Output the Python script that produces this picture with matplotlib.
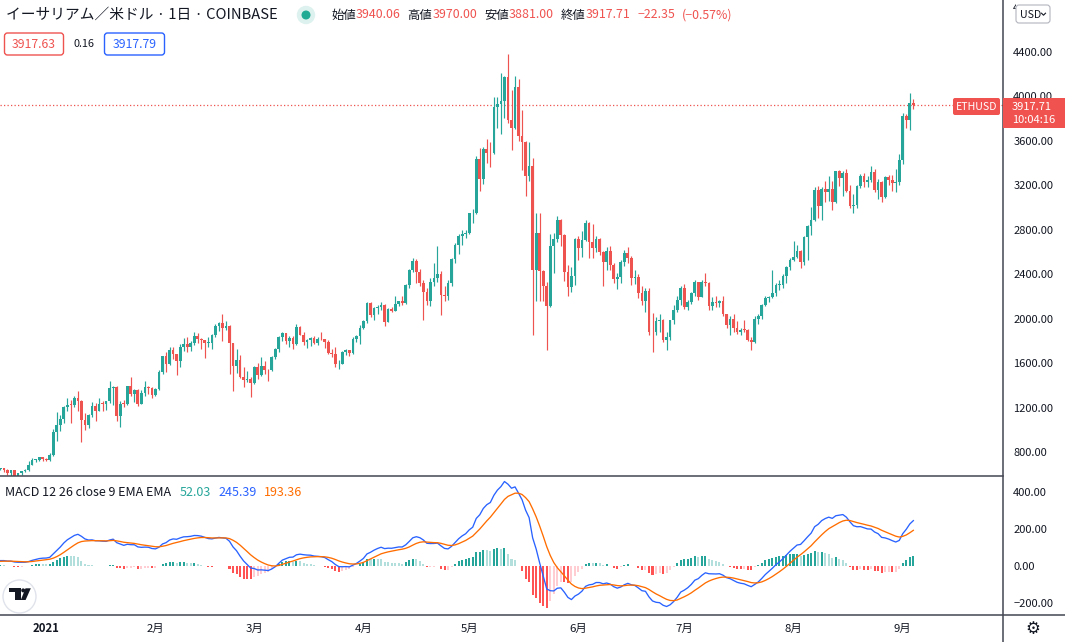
import numpy as np
import pandas as pd
import matplotlib
matplotlib.use('Agg')
import matplotlib.pyplot as plt
from matplotlib.patches import FancyBboxPatch, Circle, Polygon, Rectangle
from matplotlib.lines import Line2D
import matplotlib.transforms as mtransforms

plt.rcParams['font.family'] = ['Noto Sans CJK JP', 'DejaVu Sans']

# ---------------- data ----------------
# warm-up closes (2020-11-01 .. 2020-12-18), used only for the MACD history
warmup_close = [396, 383, 388, 402, 415, 455, 435, 453, 444, 449, 462, 463, 475, 460, 448,
                460, 480, 479, 471, 510, 549, 560, 608, 603, 570, 518, 517, 538, 575, 614,
                587, 598, 616, 569, 596, 601, 591, 554, 573, 560, 545, 568, 590, 586, 589,
                636, 642, 643]

# visible candles start 2020-12-19
dec_close = [654, 638, 609, 634, 584, 612, 626, 635, 683, 731, 731, 751, 737]
dec_high = [660, 659, 648, 637, 636, 615, 630, 648, 715, 746, 741, 754, 752]
dec_low = [640, 620, 595, 585, 567, 575, 597, 621, 629, 683, 707, 717, 716]

jan_close = [730, 775, 979, 1041, 1100, 1208, 1225, 1224, 1281, 1262, 1090, 1044, 1130, 1218, 1171,
             1233, 1230, 1257, 1377, 1382, 1121, 1236, 1230, 1391, 1324, 1357, 1232, 1332, 1382, 1376, 1314]
jan_high = [749, 787, 1011, 1157, 1132, 1215, 1286, 1266, 1300, 1352, 1263, 1150, 1142, 1247, 1240,
            1288, 1262, 1260, 1442, 1395, 1390, 1256, 1270, 1395, 1475, 1364, 1365, 1355, 1434, 1395, 1385]
jan_low = [716, 715, 765, 896, 990, 1064, 1170, 1060, 1202, 1170, 893, 998, 1020, 1115, 1080,
           1165, 1170, 1180, 1240, 1225, 1075, 1028, 1205, 1220, 1300, 1250, 1217, 1240, 1300, 1320, 1282]

feb_close = [1369, 1515, 1660, 1594, 1719, 1677, 1614, 1746, 1768, 1744, 1783, 1843, 1814, 1805,
             1779, 1781, 1848, 1937, 1960, 1919, 1935, 1777, 1572, 1626, 1475, 1446, 1459, 1417]
feb_high = [1376, 1540, 1665, 1700, 1740, 1745, 1685, 1770, 1825, 1832, 1800, 1875, 1870, 1825,
            1810, 1830, 1865, 1950, 1970, 2042, 1975, 1938, 1780, 1725, 1670, 1560, 1530, 1470]
feb_low = [1300, 1355, 1500, 1515, 1580, 1633, 1490, 1565, 1705, 1700, 1710, 1765, 1780, 1725,
           1643, 1740, 1730, 1830, 1890, 1800, 1900, 1500, 1352, 1510, 1465, 1388, 1430, 1295]

mar_close = [1564, 1492, 1575, 1541, 1533, 1655, 1723, 1834, 1868, 1799, 1826, 1772, 1924, 1854, 1791,
             1806, 1823, 1782, 1817, 1812, 1785, 1688, 1678, 1588, 1595, 1702, 1716, 1691, 1819, 1846, 1919]
mar_high = [1570, 1600, 1650, 1620, 1550, 1660, 1735, 1840, 1875, 1870, 1840, 1840, 1947, 1935, 1880,
            1815, 1832, 1845, 1830, 1875, 1815, 1810, 1725, 1740, 1625, 1705, 1730, 1720, 1835, 1855, 1945]
mar_low = [1410, 1460, 1485, 1500, 1440, 1530, 1640, 1700, 1800, 1775, 1740, 1730, 1760, 1850, 1765,
           1735, 1750, 1770, 1760, 1805, 1735, 1680, 1655, 1568, 1545, 1590, 1675, 1665, 1680, 1790, 1770]

apr_close = [1977, 2143, 2028, 2093, 2107, 2118, 1971, 2088, 2072, 2135, 2158, 2139, 2299, 2432, 2515,
             2418, 2317, 2235, 2153, 2330, 2364, 2403, 2213, 2205, 2320, 2534, 2663, 2746, 2756, 2773]
apr_high = [1990, 2150, 2145, 2100, 2120, 2150, 2130, 2095, 2100, 2200, 2160, 2200, 2310, 2445, 2547,
            2535, 2445, 2350, 2275, 2360, 2495, 2650, 2430, 2290, 2345, 2542, 2680, 2758, 2797, 2797]
apr_low = [1910, 1960, 2015, 1990, 2040, 2075, 1935, 1965, 2060, 2070, 2115, 2120, 2135, 2275, 2420,
           2320, 2290, 1988, 2120, 2110, 2290, 2330, 2035, 2160, 2170, 2290, 2500, 2580, 2659, 2720]

may_close = [2945, 2950, 3431, 3253, 3523, 3490, 3484, 3903, 3928, 3952, 4169, 3785, 3715, 4080, 3642,
             3590, 3282, 3372, 2440, 2771, 2430, 2290, 2110, 2654, 2714, 2888, 2750, 2420, 2281, 2384, 2714]
may_high = [2950, 2985, 3460, 3530, 3540, 3610, 3590, 3990, 3990, 4208, 4180, 4382, 4058, 4178, 4149,
            3878, 3600, 3590, 3446, 2950, 2950, 2440, 2330, 2760, 2770, 2920, 2895, 2760, 2480, 2460, 2720]
may_low = [2760, 2860, 2940, 3150, 3210, 3400, 3365, 3480, 3710, 3660, 3800, 3760, 3518, 3700, 3600,
           3338, 3097, 3235, 1853, 2153, 2153, 2153, 1718, 2100, 2410, 2690, 2650, 2336, 2200, 2240, 2300]

jun_close = [2633, 2710, 2856, 2690, 2630, 2711, 2600, 2504, 2610, 2480, 2352, 2372, 2510, 2586, 2547,
             2365, 2374, 2230, 2160, 2245, 1880, 1875, 1975, 1990, 1810, 1830, 1983, 2080, 2168, 2273]
jun_high = [2740, 2790, 2890, 2870, 2850, 2744, 2720, 2610, 2640, 2650, 2500, 2410, 2525, 2620, 2640,
            2560, 2440, 2400, 2290, 2270, 2270, 2050, 2010, 2045, 2000, 1880, 1990, 2120, 2200, 2290]
jun_low = [2530, 2550, 2700, 2546, 2543, 2600, 2570, 2296, 2440, 2440, 2320, 2263, 2320, 2470, 2500,
           2300, 2310, 2180, 2120, 2060, 1850, 1700, 1850, 1880, 1790, 1713, 1810, 1950, 2055, 2120]

jul_close = [2105, 2150, 2227, 2325, 2196, 2325, 2316, 2111, 2148, 2141, 2156, 2040, 1943, 1995, 1915,
             1880, 1898, 1896, 1808, 1785, 1994, 2025, 2123, 2188, 2191, 2230, 2300, 2300, 2380, 2460, 2528]
jul_high = [2310, 2165, 2240, 2345, 2330, 2350, 2410, 2325, 2195, 2200, 2170, 2200, 2045, 2020, 2040,
            1975, 1915, 1990, 1910, 1835, 2020, 2045, 2135, 2200, 2200, 2438, 2320, 2348, 2400, 2470, 2540]
jul_low = [2090, 2080, 2130, 2200, 2165, 2200, 2290, 2080, 2080, 2100, 2100, 2020, 1912, 1853, 1880,
           1860, 1855, 1880, 1800, 1717, 1780, 1955, 2000, 2110, 2150, 2180, 2200, 2260, 2270, 2320, 2440]

aug_close = [2555, 2609, 2504, 2736, 2828, 2890, 3158, 3008, 3163, 3141, 3163, 3046, 3323, 3265, 3310,
             3143, 3008, 3020, 3187, 3284, 3226, 3243, 3320, 3158, 3228, 3090, 3272, 3244, 3220, 3230, 3428]
aug_high = [2693, 2665, 2620, 2745, 2840, 3000, 3180, 3194, 3180, 3233, 3278, 3235, 3330, 3332, 3330,
            3341, 3200, 3122, 3200, 3300, 3310, 3280, 3374, 3345, 3250, 3240, 3280, 3290, 3290, 3345, 3482]
aug_low = [2520, 2540, 2450, 2480, 2522, 2750, 2880, 2900, 2882, 3045, 3060, 2973, 3040, 3190, 3104,
           3140, 2990, 2951, 2990, 3170, 3180, 3180, 3230, 3140, 3075, 3050, 3080, 3200, 3143, 3135, 3200]

sep_close = [3824, 3788, 3940.06, 3917.71]
sep_high = [3845, 3840, 4028, 3970.00]
sep_low = [3390, 3716, 3698, 3881.00]

month_labels = ['2021', '2月', '3月', '4月', '5月', '6月', '7月', '8月', '9月']
month_starts = ['2021-01-01', '2021-02-01', '2021-03-01', '2021-04-01', '2021-05-01',
                '2021-06-01', '2021-07-01', '2021-08-01', '2021-09-01']
price_ticks = [800, 1200, 1600, 2000, 2400, 2800, 3200, 3600, 4000, 4400]
macd_ticks = [-200, 0, 200, 400]

last_price = 3917.71
legend_vals = ['52.03', '245.39', '193.36']

# ---------------- assemble ----------------
close = np.array(dec_close + jan_close + feb_close + mar_close + apr_close + may_close +
                 jun_close + jul_close + aug_close + sep_close, dtype=float)
high = np.array(dec_high + jan_high + feb_high + mar_high + apr_high + may_high +
                jun_high + jul_high + aug_high + sep_high, dtype=float)
low = np.array(dec_low + jan_low + feb_low + mar_low + apr_low + may_low +
               jun_low + jul_low + aug_low + sep_low, dtype=float)
open_ = np.concatenate([[warmup_close[-1]], close[:-1]])

dates = pd.date_range('2020-12-19', periods=len(close), freq='D')
ref = pd.Timestamp('2021-01-01')
d = np.array((dates - ref).days, dtype=float)
high = np.maximum(high, np.maximum(open_, close))
low = np.minimum(low, np.minimum(open_, close))

full = pd.Series(np.concatenate([warmup_close, close]))
ema12 = full.ewm(span=12, adjust=False).mean()
ema26 = full.ewm(span=26, adjust=False).mean()
macd_full = ema12 - ema26
sig_full = macd_full.ewm(span=9, adjust=False).mean()
hist_full = (macd_full - sig_full).values
n0 = len(warmup_close)
macd = macd_full.values[n0:]
sig = sig_full.values[n0:]
hist = hist_full[n0:]
hist_prev = hist_full[n0 - 1:-1]

# ---------------- figure ----------------
W, H = 1065, 642
fig = plt.figure(figsize=(W / 100, H / 100), dpi=100)
fig.patch.set_facecolor('white')

PLOT_R = 1003
ax = fig.add_axes([0, 1 - 476 / H, PLOT_R / W, 476 / H])
axm = fig.add_axes([0, 1 - 615 / H, PLOT_R / W, (615 - 476) / H], sharex=ax)
ov = fig.add_axes([0, 0, 1, 1], facecolor='none')
ov.set_xlim(0, W)
ov.set_ylim(H, 0)
ov.axis('off')

px_per_day = 3.525
x0_day = -46.2 / px_per_day
x1_day = (PLOT_R - 46.2) / px_per_day
ax.set_xlim(x0_day, x1_day)

ax.set_ylim(800 - 24 * 8.99, 800 + 452 * 8.99)
axm.set_ylim(-(615 - 566) * 5.405, 400 + 16 * 5.405)

UP, DOWN = '#26A69A', '#EF5350'
TXT = '#131722'
for a in (ax, axm):
    a.set_facecolor('white')
    for s in a.spines.values():
        s.set_visible(False)
    a.tick_params(axis='x', which='both', length=0, labelbottom=False)
    a.yaxis.tick_right()
    a.tick_params(axis='y', length=0, pad=7.4, labelsize=8, labelcolor=TXT)

# candles
cols = np.where(close >= open_, UP, DOWN)
ax.vlines(d, low, high, colors=cols, lw=0.85, zorder=2)
body_b = np.minimum(open_, close)
body_h = np.maximum(np.abs(close - open_), 7)
ax.bar(d, body_h, bottom=body_b, width=0.78, color=cols, lw=0, zorder=3)

ax.set_yticks(price_ticks)
ax.set_yticklabels([f'{v:.2f}' for v in price_ticks])
ax.axhline(last_price, color=DOWN, lw=0.9, dashes=(1, 1.8), zorder=1)

# MACD
hcols = []
for hv, hp in zip(hist, hist_prev):
    if hv >= 0:
        hcols.append('#26A69A' if hv > hp else '#B2DFDB')
    else:
        hcols.append('#FF5252' if hv < hp else '#FFCDD2')
axm.bar(d, hist, width=0.58, color=hcols, lw=0, zorder=2)
axm.plot(d, macd, color='#2962FF', lw=0.95, zorder=3)
axm.plot(d, sig, color='#FF6D00', lw=0.95, zorder=3)
axm.set_yticks(macd_ticks)
axm.set_yticklabels([f'{v:.2f}'.replace('-', '\u2212') for v in macd_ticks])

# frame lines
LINE = '#434651'
ov.add_line(Line2D([0, PLOT_R], [476, 476], color=LINE, lw=1.1))
ov.add_line(Line2D([0, W], [615, 615], color=LINE, lw=1.1))
ov.add_line(Line2D([PLOT_R, PLOT_R], [0, H], color=LINE, lw=1.1))

# x labels
tr = mtransforms.blended_transform_factory(axm.transData, ov.transData)
for lab, ms in zip(month_labels, month_starts):
    dd = (pd.Timestamp(ms) - ref).days
    ov.text(dd, 629, lab, transform=tr, ha='center', va='center', fontsize=8.2, color=TXT,
            fontweight='bold' if lab == '2021' else 'normal')

# gear
ov.text(1033, 629, '\u2699', ha='center', va='center', fontsize=12, color=TXT, family='DejaVu Sans')

# partially hidden 4800 tick peeking out left of the USD box
t48 = ov.text(1013, 7.6, '4', ha='left', va='center', fontsize=8, color=TXT)
t48.set_clip_box(mtransforms.Bbox.from_extents(1000, 642 - 27, 1015.5, 642))
t48.set_clip_on(True)

# USD box
ov.add_patch(FancyBboxPatch((1016, 5), 34, 18, boxstyle='round,pad=0,rounding_size=3',
                            fc='white', ec='#B2B5BE', lw=0.8, zorder=6))
ov.text(1020, 14.5, 'USD', ha='left', va='center', fontsize=7.6, color=TXT, zorder=7)
ov.add_line(Line2D([1041.5, 1043.5, 1045.5], [13.2, 15.2, 13.2], color=TXT, lw=0.8, zorder=7))

# ETHUSD label and price box
ov.add_patch(FancyBboxPatch((953, 98), 47, 17, boxstyle='round,pad=0,rounding_size=2',
                            fc='#F0524F', ec='none', zorder=5))
ov.text(976.5, 106.8, 'ETHUSD', ha='center', va='center', fontsize=7.6, color='white', zorder=6)
ov.add_patch(Rectangle((1003, 98), 62, 30, fc='#F0524F', ec='none', zorder=5))
ov.text(1012, 106.5, f'{last_price:.2f}', ha='left', va='center', fontsize=8, color='white', zorder=6)
ov.text(1012, 120, '10:04:16', ha='left', va='center', fontsize=8, color='white', zorder=6)

# header
fig.canvas.draw()
rend = fig.canvas.get_renderer()


def put(x, y, s, **kw):
    t = ov.text(x, y, s, va='center', ha='left', **kw)
    bb = t.get_window_extent(renderer=rend)
    return x + bb.width


ov.text(6, 15, 'イーサリアム／米ドル · 1日 · COINBASE', ha='left', va='center', fontsize=10.6, color=TXT)
ov.add_patch(Circle((306, 15), 8.5, color='#DDF2EE', zorder=4))
ov.add_patch(Circle((306, 15), 3.8, color='#22AB94', zorder=5))

x = 331
fs = 8.9
for lab, val in [('始値', '3940.06'), ('高値', '3970.00'), ('安値', '3881.00'), ('終値', '3917.71')]:
    x = put(x, 15, lab, fontsize=fs, color=TXT)
    x = put(x, 15, val, fontsize=fs, color=DOWN) + 7
x = put(x, 15, '\u221222.35', fontsize=fs, color=DOWN) + 7
put(x, 15, '(\u22120.57%)', fontsize=fs, color=DOWN)

ov.add_patch(FancyBboxPatch((4.5, 33), 59, 22, boxstyle='round,pad=0,rounding_size=3',
                            fc='white', ec=DOWN, lw=1.0))
ov.text(34, 44, '3917.63', ha='center', va='center', fontsize=8.8, color=DOWN)
ov.text(84, 44, '0.16', ha='center', va='center', fontsize=7.8, color=TXT)
ov.add_patch(FancyBboxPatch((104.5, 33), 60, 22, boxstyle='round,pad=0,rounding_size=3',
                            fc='white', ec='#2962FF', lw=1.0))
ov.text(134.5, 44, '3917.79', ha='center', va='center', fontsize=8.8, color='#2962FF')

# MACD legend
lfs = 9.0
x = put(5, 492.5, 'MACD 12 26 close 9 EMA EMA', fontsize=lfs, color=TXT) + 9
x = put(x, 492.5, legend_vals[0], fontsize=lfs, color='#26A69A') + 7
x = put(x, 492.5, legend_vals[1], fontsize=lfs, color='#2962FF') + 7
put(x, 492.5, legend_vals[2], fontsize=lfs, color='#FF6D00')

# TradingView badge
ov.add_patch(Circle((19.5, 596.5), 16.5, fc='white', ec='#E0E3EB', lw=1.0, zorder=4))
ov.add_patch(Polygon([(9.3, 588.3), (20.5, 588.3), (20.5, 600), (14.6, 600), (14.6, 592), (9.3, 592)],
                     closed=True, fc='#131722', ec='none', zorder=5))
ov.add_patch(Circle((23.2, 590.4), 2.0, fc='#131722', ec='none', zorder=5))
ov.add_patch(Polygon([(25.5, 588.3), (30.8, 588.3), (25.6, 600), (20.8, 600)],
                     closed=True, fc='#131722', ec='none', zorder=5))

fig.savefig('out.png', dpi=100, facecolor='white')
